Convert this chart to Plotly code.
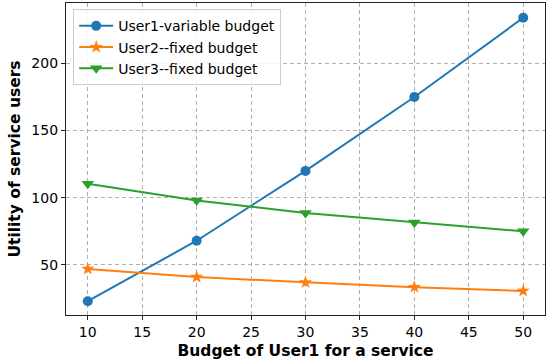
import plotly.graph_objects as go

budget = [10, 20, 30, 40, 50]
user1 = [23, 68, 120, 175, 234]
user2 = [47, 41, 37, 33.4, 30.6]
user3 = [110.4, 98, 88.6, 81.6, 75]

fig = go.Figure()
fig.add_trace(go.Scatter(x=budget, y=user1, mode="lines+markers", name="User1-variable budget",
                         line=dict(color="#1f77b4", width=2), marker=dict(symbol="circle", size=10, color="#1f77b4")))
fig.add_trace(go.Scatter(x=budget, y=user2, mode="lines+markers", name="User2--fixed budget",
                         line=dict(color="#ff7f0e", width=2), marker=dict(symbol="star", size=10, color="#ff7f0e")))
fig.add_trace(go.Scatter(x=budget, y=user3, mode="lines+markers", name="User3--fixed budget",
                         line=dict(color="#2ca02c", width=2), marker=dict(symbol="triangle-down", size=11, color="#2ca02c")))

axis_common = dict(showline=True, linecolor="#222222", linewidth=1.3, mirror=True,
                   ticks="outside", ticklen=4, tickcolor="#222222",
                   showgrid=True, gridcolor="#b0b0b0", griddash="4px,3px", gridwidth=1,
                   zeroline=False, automargin=False,
                   tickfont=dict(family="DejaVu Sans", size=14, color="black"))

fig.update_layout(
    width=550, height=364,
    margin=dict(l=66, r=5, t=3, b=49),
    plot_bgcolor="white", paper_bgcolor="white",
    font=dict(family="DejaVu Sans", color="black"),
    xaxis=dict(range=[8, 52], tickvals=[10, 15, 20, 25, 30, 35, 40, 45, 50],
               title=dict(text="<b>Budget of User1 for a service</b>", font=dict(size=15.5), standoff=6),
               **axis_common),
    yaxis=dict(range=[12.7, 245], tickvals=[50, 100, 150, 200],
               title=dict(text="<b>Utility of service users</b>", font=dict(size=15.5), standoff=6),
               **axis_common),
    legend=dict(x=0.015, y=0.98, xanchor="left", yanchor="top",
                bgcolor="rgba(255,255,255,0.85)", bordercolor="#cccccc", borderwidth=1,
                font=dict(size=14), tracegroupgap=0, itemwidth=34),
    showlegend=True,
)

fig.write_html("out.html", config={"displayModeBar": False},
               post_script="document.body.style.margin='0';document.body.style.overflow='hidden';")
